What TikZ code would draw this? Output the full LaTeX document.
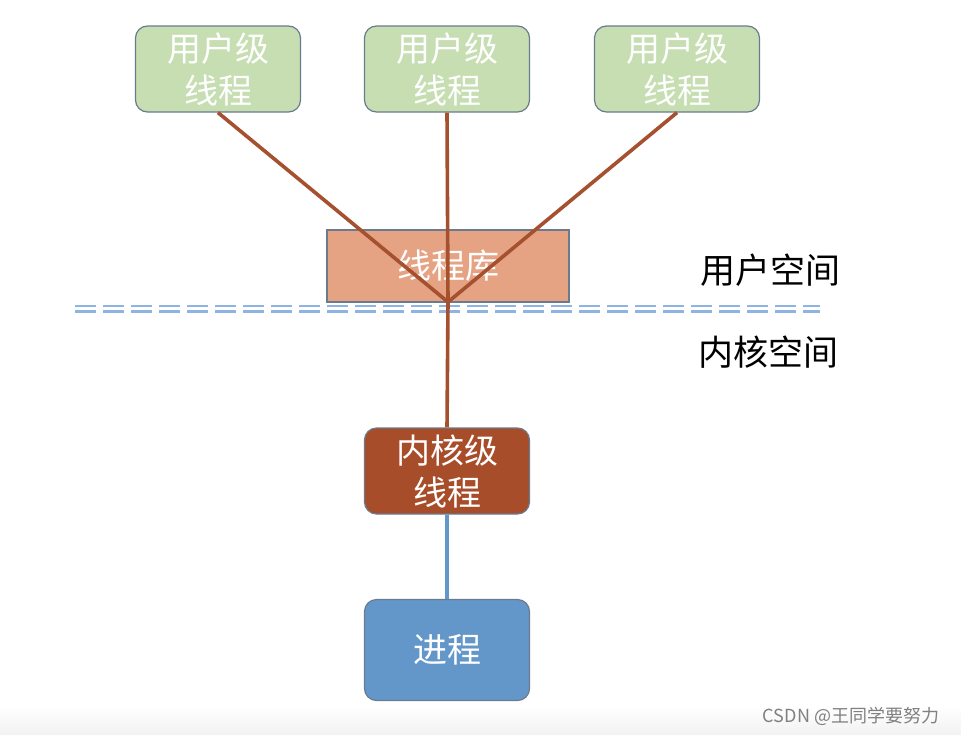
\documentclass[tikz,border=0pt]{standalone}
\usepackage{fontspec}
\setmainfont{Noto Sans CJK SC}
\begin{document}
\begin{tikzpicture}[x=1pt,y=-1pt,
  box/.style={draw=bord, line width=1.2pt, rounded corners=12pt, minimum width=165pt, minimum height=86pt, inner sep=0pt, text=white, align=center, font=\fontsize{34}{42}\selectfont},
  userbox/.style={box, fill=ugreen},
  conn/.style={draw=linkred, line width=3.6pt},
  lbl/.style={font=\fontsize{35}{40}\selectfont, text=black}]
\definecolor{ugreen}{HTML}{C6DEB2}
\definecolor{libfill}{HTML}{E5A384}
\definecolor{linkred}{HTML}{A5502E}
\definecolor{kfill}{HTML}{A84D2A}
\definecolor{pfill}{HTML}{6497C9}
\definecolor{sepblue}{HTML}{8DB4E2}
\definecolor{bord}{HTML}{6A7B8F}
\useasboundingbox[fill=white] (0,0) rectangle (961,734);
\shade[top color=white, bottom color=black!5] (0,706) rectangle (961,734);
% user threads
\node[userbox] (u1) at (218,69) {用户级\\线程};
\node[userbox] (u2) at (447,69) {用户级\\线程};
\node[userbox] (u3) at (677,69) {用户级\\线程};
% library
\node[draw=bord, line width=1.2pt, fill=libfill, minimum width=242pt, minimum height=72pt, inner sep=0pt, text=white, font=\fontsize{34}{42}\selectfont] (lib) at (448,266) {线程库};
\coordinate (m) at (448,302);
% separator
\draw[sepblue, line width=2.4pt, dash pattern=on 21pt off 7pt] (75,306) -- (820,306);
\draw[sepblue, line width=2.4pt, dash pattern=on 21pt off 7pt] (75,311.5) -- (820,311.5);
% labels
\node[lbl] (us) at (770,270) {用户空间};
\node[lbl] (ks) at (768,352) {内核空间};
% kernel thread and process
\node[box, fill=kfill] (k) at (447,471) {内核级\\线程};
\node[box, fill=pfill, minimum height=101pt] (p) at (447,650) {进程};
% connectors
\draw[conn] (u1.south) -- (m);
\draw[conn] (u2.south) -- (m);
\draw[conn] (u3.south) -- (m);
\draw[conn] (m) -- (k.north);
\draw[draw=pfill, line width=3.6pt] (k.south) -- (p.north);
% watermark
\node[text=black!50, font=\fontsize{18}{20}\selectfont] (wm) at (851,716) {CSDN @王同学要努力};
\end{tikzpicture}
\end{document}
